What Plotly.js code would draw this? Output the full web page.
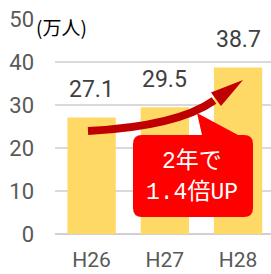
<!DOCTYPE html>
<html>
<head>
<meta charset="utf-8">
<script src="https://cdn.plot.ly/plotly-3.0.1.min.js"></script>
<style>html,body{margin:0;padding:0;background:#fff;}#chart{width:271px;height:274px;}</style>
</head>
<body>
<div id="chart"></div>
<script>
const categories = ["H26", "H27", "H28"];
const values = [27.1, 29.5, 38.7];
const yTicks = [0, 10, 20, 30, 40, 50];
const unitLabel = "(万人)";
const calloutLines = ["2年で", "1.4倍UP"];

const W = 271, H = 274;
const M = {l: 55, r: 0, t: 19, b: 40};
const PW = W - M.l - M.r, PH = H - M.t - M.b;
function px(x) { return ((x - M.l) / PW).toFixed(4); }
function py(y) { return ((H - M.b - y) / PH).toFixed(4); }
function P(x, y) { return px(x) + ',' + py(y); }

// rounded callout box with pointer
const bx0 = 133, bx1 = 253, by0 = 135, by1 = 217, r = 9;
const tipX = 197, tipY = 113, baseL = 202, baseR = 238;
const boxPath = 'M' + P(bx0 + r, by0) +
  ' L' + P(baseL, by0) + ' L' + P(tipX, tipY) + ' L' + P(baseR, by0) +
  ' L' + P(bx1 - r, by0) + ' Q' + P(bx1, by0) + ' ' + P(bx1, by0 + r) +
  ' L' + P(bx1, by1 - r) + ' Q' + P(bx1, by1) + ' ' + P(bx1 - r, by1) +
  ' L' + P(bx0 + r, by1) + ' Q' + P(bx0, by1) + ' ' + P(bx0, by1 - r) +
  ' L' + P(bx0, by0 + r) + ' Q' + P(bx0, by0) + ' ' + P(bx0 + r, by0) + ' Z';

const arrowCurve = 'M' + P(88, 131) + ' Q' + P(177, 126.5) + ' ' + P(214, 100.5);
const arrowHead = 'M' + P(243, 80) + ' L' + P(211, 92.5) + ' L' + P(221, 106) + ' Z';

const data = [{
  type: 'bar',
  x: categories,
  y: values,
  marker: {color: '#FFD966'},
  width: 0.66,
  hoverinfo: 'none'
}];

const annotations = values.map((v, i) => ({
  x: categories[i], y: v, xref: 'x', yref: 'y',
  text: v.toFixed(1), showarrow: false,
  yanchor: 'middle', yshift: 28,
  font: {family: 'Roboto, Arial, sans-serif', size: 23, color: '#404040'}
}));
annotations.push({
  xref: 'paper', yref: 'paper', x: px(34), y: py(27),
  text: unitLabel, showarrow: false, xanchor: 'left', yanchor: 'middle',
  font: {family: '"Noto Sans CJK JP", sans-serif', size: 19, color: '#000'}
});
annotations.push({
  xref: 'paper', yref: 'paper', x: px(192), y: py(162),
  text: calloutLines[0], showarrow: false, xanchor: 'center', yanchor: 'middle',
  font: {family: '"Liberation Mono", "Noto Sans CJK JP", monospace', size: 23, color: '#fff'}
});
annotations.push({
  xref: 'paper', yref: 'paper', x: px(192), y: py(193),
  text: calloutLines[1], showarrow: false, xanchor: 'center', yanchor: 'middle',
  font: {family: '"Liberation Mono", "Noto Sans CJK JP", monospace', size: 23, color: '#fff'}
});

const layout = {
  width: W, height: H,
  margin: M,
  paper_bgcolor: '#fff', plot_bgcolor: '#fff',
  showlegend: false,
  xaxis: {
    type: 'category', range: [-0.5, 2.45],
    showgrid: false, showline: false, zeroline: false, ticks: '',
    tickfont: {family: 'Roboto, Arial, sans-serif', size: 21, color: '#595959'},
    ticklabelstandoff: 11
  },
  yaxis: {
    range: [0, 50], tickvals: yTicks, ticktext: yTicks.map(String),
    showgrid: true, gridcolor: '#D9D9D9', gridwidth: 2,
    zeroline: true, zerolinecolor: '#D0D0D0', zerolinewidth: 2,
    showline: false, ticks: '',
    tickfont: {family: 'Roboto, Arial, sans-serif', size: 22, color: '#595959'},
    ticklabelstandoff: 20
  },
  shapes: [
    {type: 'path', xref: 'paper', yref: 'paper', path: boxPath, fillcolor: '#FF0000', line: {width: 0}, layer: 'above'},
    {type: 'path', xref: 'paper', yref: 'paper', path: arrowCurve, line: {color: '#C00000', width: 8}, fillcolor: 'rgba(0,0,0,0)', layer: 'above'},
    {type: 'path', xref: 'paper', yref: 'paper', path: arrowHead, fillcolor: '#C00000', line: {width: 0}, layer: 'above'}
  ],
  annotations: annotations
};

Plotly.newPlot('chart', data, layout, {staticPlot: true, displayModeBar: false});
</script>
</body>
</html>
